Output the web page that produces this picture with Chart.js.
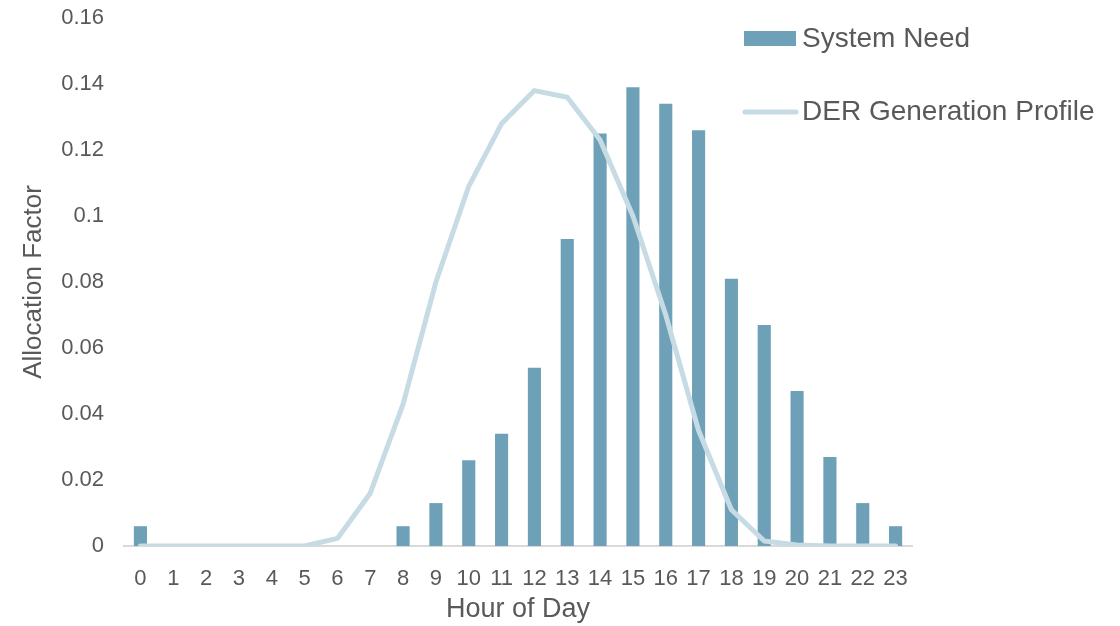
<!DOCTYPE html>
<html lang="en">
<head>
<meta charset="utf-8">
<script src="https://cdn.jsdelivr.net/npm/chart.js@4.4.0/dist/chart.umd.min.js"></script>
<style>
  html, body { margin: 0; padding: 0; background: #ffffff; }
  #wrap { width: 1120px; height: 626px; position: relative; }
</style>
</head>
<body>
<div id="wrap"><canvas id="allocChart"></canvas></div>
<script>
  // data
  const hours = ["0", "1", "2", "3", "4", "5", "6", "7", "8", "9", "10", "11",
                 "12", "13", "14", "15", "16", "17", "18", "19", "20", "21", "22", "23"];
  const systemNeed = [0.006, 0, 0, 0, 0, 0, 0, 0, 0.006, 0.013, 0.026, 0.034,
                      0.054, 0.093, 0.125, 0.139, 0.134, 0.126, 0.081, 0.067, 0.047, 0.027, 0.013, 0.006];
  const derProfile = [0, 0, 0, 0, 0, 0, 0.0023, 0.016, 0.043, 0.080, 0.109, 0.128,
                      0.138, 0.136, 0.123, 0.100, 0.070, 0.035, 0.011, 0.0015, 0.0003, 0, 0, 0];
  const yTickLabels = ["0", "0.02", "0.04", "0.06", "0.08", "0.1", "0.12", "0.14", "0.16"];

  const textColor = "#595959";
  const fontFamily = "'Liberation Sans', Arial, sans-serif";

  // legend drawn by hand, it sits over the plot area top right
  const sideLegend = {
    id: "sideLegend",
    afterDraw(chart) {
      const ctx = chart.ctx;
      const bar = chart.data.datasets[0];
      const line = chart.data.datasets[1];
      ctx.save();
      ctx.font = "28px " + fontFamily;
      ctx.textBaseline = "middle";
      ctx.textAlign = "left";

      ctx.fillStyle = bar.backgroundColor;
      ctx.fillRect(744, 31, 52, 15);
      ctx.fillStyle = textColor;
      ctx.fillText(bar.label, 802, 39);

      ctx.strokeStyle = line.borderColor;
      ctx.lineWidth = line.borderWidth;
      ctx.lineCap = "round";
      ctx.beginPath();
      ctx.moveTo(745, 112);
      ctx.lineTo(796, 112);
      ctx.stroke();
      ctx.fillText(line.label, 802, 112);
      ctx.restore();
    }
  };

  const ctx = document.getElementById("allocChart").getContext("2d");
  new Chart(ctx, {
    type: "bar",
    data: {
      labels: hours,
      datasets: [
        {
          label: "System Need",
          data: systemNeed,
          backgroundColor: "#6ea1b7",
          categoryPercentage: 1.0,
          barPercentage: 0.4,
          order: 1
        },
        {
          type: "line",
          label: "DER Generation Profile",
          data: derProfile,
          borderColor: "#c6dbe4",
          borderWidth: 5,
          borderCapStyle: "round",
          borderJoinStyle: "round",
          pointRadius: 0,
          fill: false,
          tension: 0,
          order: 0
        }
      ]
    },
    options: {
      responsive: true,
      maintainAspectRatio: false,
      animation: false,
      devicePixelRatio: 1,
      layout: { padding: { top: 18, right: 208, bottom: 0, left: 0 } },
      plugins: {
        legend: { display: false },
        tooltip: { enabled: false }
      },
      scales: {
        x: {
          grid: { display: false, drawTicks: false },
          border: { display: true, color: "#d9d9d9", width: 2 },
          ticks: {
            color: textColor,
            font: { family: fontFamily, size: 22 },
            padding: 20,
            maxRotation: 0,
            autoSkip: false
          },
          title: {
            display: true,
            text: "Hour of Day",
            color: textColor,
            font: { family: fontFamily, size: 27 },
            padding: 0
          },
          afterFit(scale) { scale.height = 80; }
        },
        y: {
          min: 0,
          max: 0.16,
          grid: { display: false, drawTicks: false },
          border: { display: false },
          ticks: {
            stepSize: 0.02,
            color: textColor,
            font: { family: fontFamily, size: 22 },
            padding: 20,
            callback: (v, i) => yTickLabels[i]
          },
          title: {
            display: true,
            text: "Allocation Factor",
            color: textColor,
            font: { family: fontFamily, size: 26 },
            padding: 18
          },
          afterFit(scale) {
            scale.width = 124;
            scale.paddingTop = 13;
          }
        }
      }
    },
    plugins: [sideLegend]
  });
</script>
</body>
</html>
